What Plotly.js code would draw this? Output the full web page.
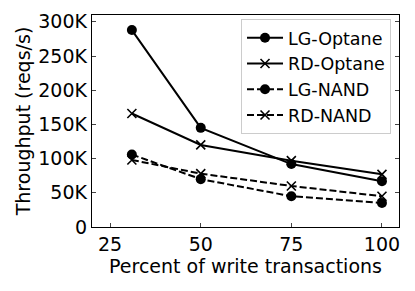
<!DOCTYPE html>
<html>
<head>
<meta charset="utf-8">
<script src="https://cdn.plot.ly/plotly-3.0.1.min.js"></script>
<style>html,body{margin:0;padding:0;background:#fff;}#chart{width:415px;height:291px;}</style>
</head>
<body>
<div id="chart"></div>
<script>
var writePct = [31, 50, 75, 100];
var lgOptane = [288000, 145000, 92000, 67000];
var rdOptane = [166000, 120000, 97000, 77000];
var lgNand = [106000, 70000, 45000, 35000];
var rdNand = [98000, 78000, 60000, 45000];
var seriesNames = ["LG-Optane", "RD-Optane", "LG-NAND", "RD-NAND"];
var xTicks = [25, 50, 75, 100];
var yTickVals = [0, 50000, 100000, 150000, 200000, 250000, 300000];
var yTickText = ["0", "50K", "100K", "150K", "200K", "250K", "300K"];

var F = "DejaVu Sans, sans-serif";
function tr(y, name, sym, dash) {
  var isX = sym === "x";
  return {
    x: writePct, y: y, name: name, type: "scatter", mode: "lines+markers",
    line: {color: "#000", width: 2, dash: dash},
    marker: isX ? {symbol: "x-thin-open", size: 9, color: "#000", line: {color: "#000", width: 1.6}}
                : {symbol: "circle", size: 10, color: "#000"}
  };
}
var data = [
  tr(lgOptane, seriesNames[0], "o", "solid"),
  tr(rdOptane, seriesNames[1], "x", "solid"),
  tr(lgNand, seriesNames[2], "o", "7px,3px"),
  tr(rdNand, seriesNames[3], "x", "7px,3px")
];
var layout = {
  width: 415, height: 291,
  margin: {l: 92, r: 16, t: 15, b: 64},
  paper_bgcolor: "#fff", plot_bgcolor: "#fff",
  font: {family: F, size: 19, color: "#000"},
  showlegend: true,
  legend: {x: 0.974, xanchor: "right", y: 0.982, yanchor: "top",
    bordercolor: "#cccccc", borderwidth: 1, bgcolor: "rgba(255,255,255,0.8)",
    font: {family: F, size: 17.5, color: "#000"}, tracegroupgap: 0, itemwidth: 36},
  xaxis: {range: [20, 104.7], tickvals: xTicks, ticks: "inside", ticklen: 4, tickwidth: 1,
    showline: true, linecolor: "#000", linewidth: 1.2, mirror: true, showgrid: false, zeroline: false,
    tickfont: {family: F, size: 19},
    title: {text: "Percent of write transactions", font: {family: F, size: 19}, standoff: 2}},
  yaxis: {range: [0, 310000], tickvals: yTickVals, ticktext: yTickText, ticks: "inside", ticklen: 4, tickwidth: 1,
    showline: true, linecolor: "#000", linewidth: 1.2, mirror: "ticks", showgrid: false, zeroline: false,
    tickfont: {family: F, size: 19},
    title: {text: "Throughput (reqs/s)", font: {family: F, size: 19}, standoff: 2}}
};
Plotly.newPlot("chart", data, layout, {displayModeBar: false, staticPlot: true});
</script>
</body>
</html>
